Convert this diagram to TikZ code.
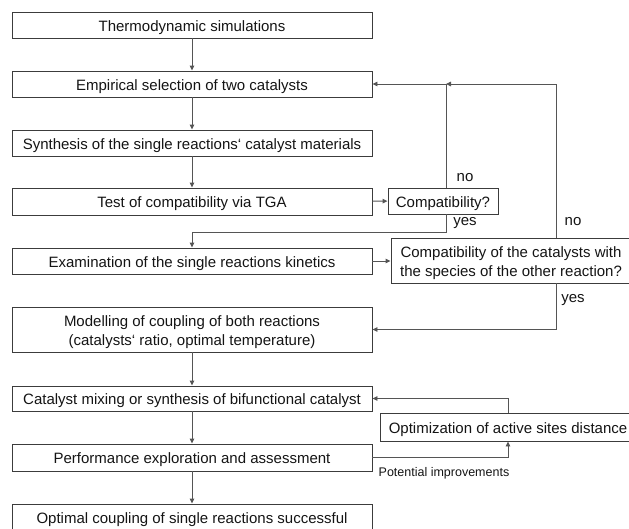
\documentclass[tikz,border=0pt]{standalone}
\usepackage{fontspec}
\setmainfont{Liberation Sans}
\usetikzlibrary{arrows.meta,calc}
\definecolor{boxc}{RGB}{60,60,60}
\definecolor{linec}{RGB}{85,85,85}
\definecolor{txtc}{RGB}{20,20,20}
\begin{document}
\begin{tikzpicture}[x=1pt,y=-1pt,
  stepbox/.style={draw=boxc,line width=0.9pt,rectangle,minimum width=360pt,minimum height=26pt,inner sep=0pt,text=txtc,font=\fontsize{15}{19}\selectfont,text height=13.2pt,text depth=0.8pt},
  twoline/.style={align=center,text height=32.2pt,text depth=0.8pt},
  arr/.style={draw=linec,line width=0.9pt,-{Triangle[length=5pt,width=4.5pt]}},
  lbl/.style={text=txtc,font=\fontsize{15}{19}\selectfont,inner sep=0pt},
  small/.style={text=txtc,font=\fontsize{12.5}{15}\selectfont,inner sep=0pt}]
\useasboundingbox (0,0) rectangle (629,528);
\clip (0,0) rectangle (629,528);
\node[stepbox] (b1) at (192,25) {Thermodynamic simulations};
\node[stepbox] (b2) at (192,84) {Empirical selection of two catalysts};
\node[stepbox] (b3) at (192,143) {Synthesis of the single reactions‘ catalyst materials};
\node[stepbox,minimum height=27pt] (b4) at (192,201.5) {Test of compatibility via TGA};
\node[stepbox] (b5) at (192,261) {Examination of the single reactions kinetics};
\node[stepbox,twoline,minimum height=45pt] (b6) at (192,329.5) {Modelling of coupling of both reactions\\(catalysts‘ ratio, optimal temperature)};
\node[stepbox,minimum height=25pt] (b7) at (192,398.5) {Catalyst mixing or synthesis of bifunctional catalyst};
\node[stepbox,minimum height=27pt] (b8) at (192,457.5) {Performance exploration and assessment};
\node[stepbox,minimum height=27pt] (b9) at (192,517.5) {Optimal coupling of single reactions successful};
\node[stepbox,minimum width=110pt] (c1) at (443,201) {Compatibility?};
\node[stepbox,twoline,minimum width=240pt,minimum height=45pt] (c2) at (511,260.5) {Compatibility of the catalysts with\\the species of the other reaction?};
\node[stepbox,minimum width=256pt,minimum height=28pt] (op) at (508,427) {Optimization of active sites distance};
\coordinate (inner) at (446,84);
\coordinate (outer) at (556,84);
\coordinate (y1) at (446,232);
\draw[arr] (b1) -- (b2);
\draw[arr] (b2) -- (b3);
\draw[arr] (b3) -- (b4);
\draw[arr] (b6) -- (b7);
\draw[arr] (b7) -- (b8);
\draw[arr] (b8) -- (b9);
\draw[arr] (b4) -- (c1);
\draw[arr] (b5.east) -- (b5.east -| c2.west);
\draw[arr] (c1.north -| inner) |- (b2.east);
\draw[arr] (c2.north -| outer) |- (inner);
\draw[arr] (c1.south -| y1) -- (y1) -| (b5.north);
\draw[arr] (c2.south -| outer) |- (b6.east);
\draw[arr] (b8.east) -| (op.south);
\draw[arr] (op.north) |- (b7.east);
\node[lbl] (no1) at (465,178) {no};
\node[lbl] (yes1) at (465,223) {yes};
\node[lbl] (no2) at (573,222) {no};
\node[lbl] (yes2) at (573,300) {yes};
\node[small] (pi) at (444,473) {Potential improvements};
\end{tikzpicture}
\end{document}
